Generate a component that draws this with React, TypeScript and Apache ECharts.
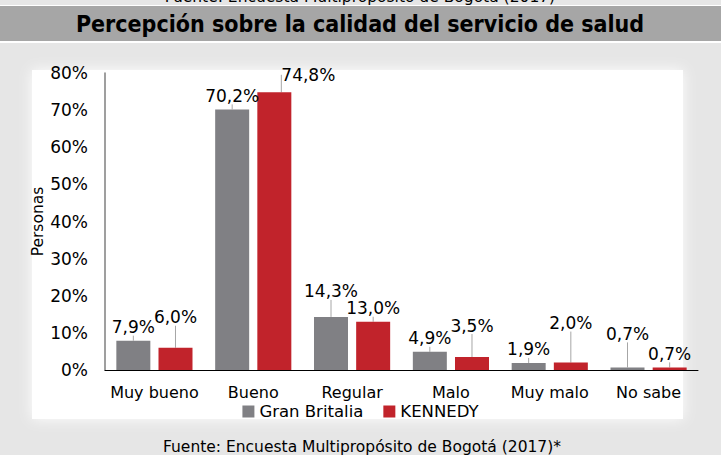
import React, { useEffect, useRef } from "react";
import * as echarts from "echarts";

const categories = ["Muy bueno", "Bueno", "Regular", "Malo", "Muy malo", "No sabe"];
const granBritalia = [7.9, 70.2, 14.3, 4.9, 1.9, 0.7];
const kennedy = [6.0, 74.8, 13.0, 3.5, 2.0, 0.7];
const yTicks = [0, 10, 20, 30, 40, 50, 60, 70, 80];
const seriesNames = ["Gran Britalia", "KENNEDY"];

// label displacement (px) per series / category
const labelShift: [number, number][][] = [
  [[0, 0], [0, 0], [0, -12], [0, 0], [0, 0], [0, -20]],
  [[0, -17], [34, -4], [0, 0], [0, -18], [0, -26], [0, 0]],
];

const FONT = "'DejaVu Sans', Verdana, sans-serif";
const FONT_C = "'DejaVu Sans Condensed', 'DejaVu Sans', sans-serif";
const fmt = (v: number) => v.toFixed(1).replace(".", ",") + "%";

export default function App() {
  const ref = useRef<HTMLDivElement>(null);
  useEffect(() => {
    document.body.style.margin = "0";
    const chart = echarts.init(ref.current!, undefined, { renderer: "svg" });
    const labelCommon = {
      show: true,
      position: "top" as const,
      distance: 5,
      fontFamily: FONT,
      fontSize: 17,
      color: "#000",
      formatter: (p: any) => fmt(p.value),
    };
    chart.setOption({
      animation: false,
      backgroundColor: "#e6e6e6",
      textStyle: { fontFamily: FONT },
      graphic: [
        { type: "rect", z: -10, shape: { x: 0, y: 5, width: 721, height: 38 }, style: { fill: "#ffffff" } },
        { type: "rect", z: -9, shape: { x: 0, y: 6, width: 721, height: 35 }, style: { fill: "#a6a6a6" } },
        {
          type: "text", z: -8, x: 360, y: 24,
          style: { text: "Percepción sobre la calidad del servicio de salud", fontFamily: FONT_C, fontWeight: "bold", fontSize: 23, fill: "#000", align: "center", verticalAlign: "middle" },
        },
        {
          type: "text", z: -8, x: 360, y: -3,
          style: { text: "Fuente: Encuesta Multipropósito de Bogotá (2017)", fontFamily: FONT, fontSize: 15.5, fill: "#000", align: "center", verticalAlign: "middle" },
        },
        {
          type: "rect", z: -9, shape: { x: 32, y: 70, width: 651, height: 349 },
          style: { fill: "#ffffff", shadowBlur: 14, shadowColor: "rgba(255,255,255,1)" },
        },
        {
          type: "text", z: -8, x: 362, y: 447,
          style: { text: "Fuente: Encuesta Multipropósito de Bogotá (2017)*", fontFamily: FONT, fontSize: 15.5, fill: "#000", align: "center", verticalAlign: "middle" },
        },
      ],
      grid: { left: 105, right: 23, top: 73, bottom: 85, containLabel: false },
      legend: {
        data: seriesNames,
        bottom: 30,
        left: "center",
        icon: "rect",
        itemWidth: 12,
        itemHeight: 12,
        itemGap: 20,
        textStyle: { fontFamily: FONT, fontSize: 16.5, color: "#000" },
      },
      xAxis: {
        type: "category",
        data: categories,
        axisLine: { lineStyle: { color: "#000", width: 1 } },
        axisTick: { show: false },
        axisLabel: { fontFamily: FONT, fontSize: 16, color: "#000", margin: 14, interval: 0 },
      },
      yAxis: {
        type: "value",
        min: 0,
        max: 80,
        interval: 10,
        name: "Personas",
        nameLocation: "middle",
        nameGap: 59,
        nameMoveOverlap: false,
        nameTextStyle: { fontFamily: FONT, fontSize: 15.5, color: "#000" },
        axisLine: { show: true, lineStyle: { color: "#7f7f7f", width: 1.5 } },
        axisTick: { show: false },
        splitLine: { show: false },
        axisLabel: {
          fontFamily: FONT, fontSize: 17, color: "#000", margin: 17,
          formatter: (v: number) => (yTicks.includes(v) ? v + "%" : ""),
        },
      },
      series: [
        {
          name: seriesNames[0],
          type: "bar",
          data: granBritalia,
          barWidth: 34,
          barGap: "24%",
          itemStyle: { color: "#808084" },
          label: labelCommon,
          labelLine: { show: true, lineStyle: { color: "#a6a6a6", width: 1 } },
          labelLayout: (p: any) => ({ dx: labelShift[0][p.dataIndex][0], dy: labelShift[0][p.dataIndex][1] }),
        },
        {
          name: seriesNames[1],
          type: "bar",
          data: kennedy,
          barWidth: 34,
          itemStyle: { color: "#c1232b" },
          label: labelCommon,
          labelLine: { show: true, lineStyle: { color: "#a6a6a6", width: 1 } },
          labelLayout: (p: any) => ({ dx: labelShift[1][p.dataIndex][0], dy: labelShift[1][p.dataIndex][1] }),
        },
      ],
    });
    return () => chart.dispose();
  }, []);
  return <div ref={ref} style={{ position: "fixed", left: 0, top: 0, width: 721, height: 455 }} />;
}
